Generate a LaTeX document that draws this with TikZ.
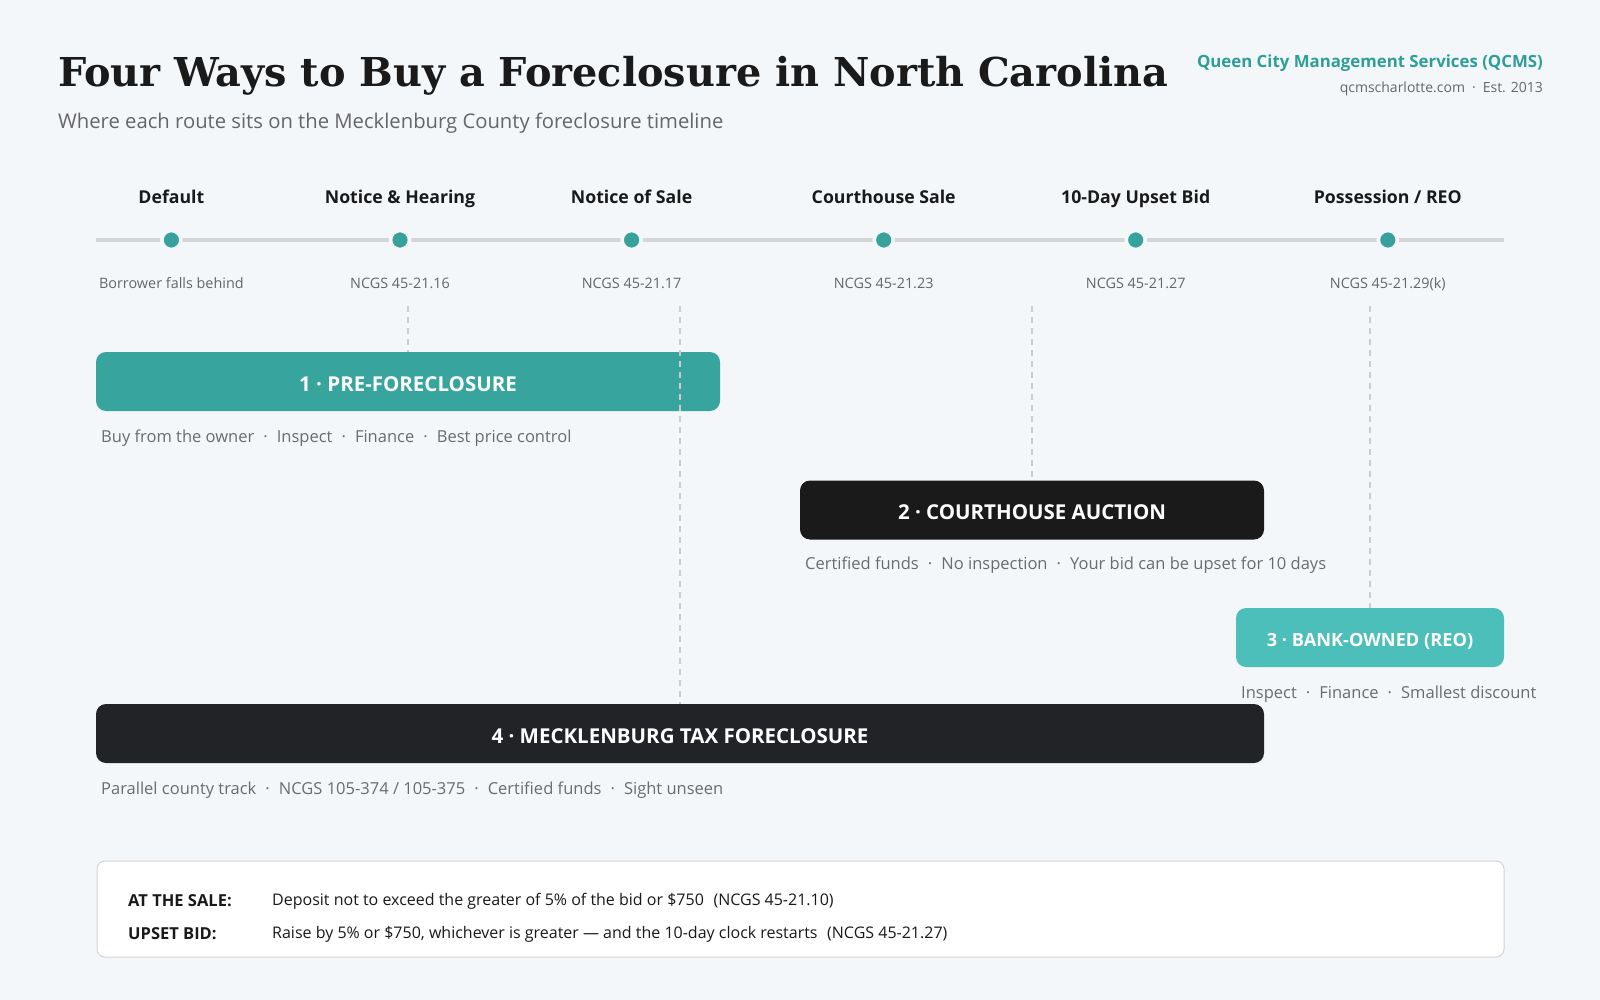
\documentclass[tikz,border=0pt]{standalone}
\usepackage{fontspec}
\setmainfont{Open Sans}
\newfontfamily\titlefont{DejaVu Serif}
\definecolor{bg}{HTML}{F4F7FA}
\definecolor{ink}{HTML}{1A1A1A}
\definecolor{teal1}{HTML}{37A59E}
\definecolor{teal2}{HTML}{4DBFBA}
\definecolor{dotc}{HTML}{37A29B}
\definecolor{blk2}{HTML}{1A1A1A}
\definecolor{blk4}{HTML}{222326}
\definecolor{linec}{HTML}{D5D5D5}
\definecolor{dashc}{HTML}{CCCCCC}
\definecolor{greytx}{HTML}{666666}
\definecolor{captx}{HTML}{6B6B6B}
\definecolor{brandc}{HTML}{2E9E97}
\definecolor{framec}{HTML}{D3D3D3}
\newcommand\sepdot{\hspace{0.55em}·\hspace{0.55em}}
\begin{document}
\begin{tikzpicture}[x=1pt,y=-1pt,
  lbl/.style={anchor=base, font=\fontsize{17.7}{21}\selectfont\bfseries, text=ink, inner sep=0},
  sublbl/.style={anchor=base, font=\fontsize{14.4}{17}\selectfont, text=greytx, inner sep=0},
  dotnode/.style={circle, fill=dotc, draw=bg, line width=3.6pt, minimum size=19pt, inner sep=0},
  routebox/.style={rounded corners=10pt, minimum height=59pt, text=white, inner sep=0,
    text height=19.6pt, text depth=0pt,
    font=\fontsize{20.5}{24}\selectfont\bfseries},
  capt/.style={anchor=west, font=\fontsize{16.5}{20}\selectfont, text=captx, inner sep=0},
  vlink/.style={draw=dashc, line width=1.5pt, dash pattern=on 6pt off 5pt},
  notelbl/.style={anchor=west, font=\fontsize{16.5}{20}\selectfont\bfseries, text=ink, inner sep=0},
  noteval/.style={anchor=west, font=\fontsize{16}{20}\selectfont, text=ink, inner sep=0}
]
\fill[bg] (0,0) rectangle (1600,1000);
\useasboundingbox (0,0) rectangle (1600,1000);

% header
\node[anchor=base west, inner sep=0, font=\titlefont\fontsize{39.8}{46}\selectfont\bfseries, text=ink] (title) at (58,87) {Four Ways to Buy a Foreclosure in North Carolina};
\node[anchor=west, inner sep=0, font=\fontsize{20.25}{24}\selectfont, text=greytx] (subtitle) at (58,123) {Where each route sits on the Mecklenburg County foreclosure timeline};
\node[anchor=east, inner sep=0, font=\fontsize{16.8}{20}\selectfont\bfseries, text=brandc] (brand) at (1543,63) {Queen City Management Services (QCMS)};
\node[anchor=east, inner sep=0, font=\fontsize{14}{17}\selectfont, text=greytx] (web) at (1543,89) {qcmscharlotte.com\hspace{0.5em}·\hspace{0.5em}Est. 2013};

% timeline
\coordinate (tlA) at (96,240);
\coordinate (tlB) at (1504,240);
\draw[linec, line width=4.5pt] (tlA) -- (tlB);
\foreach \i/\x/\top/\bot in {1/171.4/{Default}/{Borrower falls behind},
  2/400/{Notice \& Hearing}/{NCGS 45-21.16},
  3/631.6/{Notice of Sale}/{NCGS 45-21.17},
  4/883.7/{Courthouse Sale}/{NCGS 45-21.23},
  5/1135.7/{10-Day Upset Bid}/{NCGS 45-21.27},
  6/1387.8/{Possession / REO}/{NCGS 45-21.29(k)}}{
  \node[dotnode] (d\i) at (\x,240) {};
  \node[lbl] (l\i) at (\x,203.5) {\top};
  \node[sublbl] (s\i) at (\x,288.5) {\bot};
}

% route boxes
\node[routebox, fill=teal1, minimum width=624pt] (b1) at (408,381.5) {1 · PRE-FORECLOSURE};
\node[routebox, fill=blk2, minimum width=464pt] (b2) at (1032,510) {2 · COURTHOUSE AUCTION};
\node[routebox, fill=teal2, minimum width=268pt, font=\fontsize{18.2}{22}\selectfont\bfseries, text height=17.8pt] (b3) at (1370,637.5) {3 · BANK-OWNED (REO)};
\node[routebox, fill=blk4, minimum width=1168pt] (b4) at (680,733.5) {4 · MECKLENBURG TAX FORECLOSURE};

% dashed drops
\coordinate (v1) at (408,306);
\coordinate (v4) at (680,306);
\coordinate (v2) at (1032,306);
\coordinate (v3) at (1370,306);
\draw[vlink] (v1) -- (b1.north);
\draw[vlink] (v4) -- (b4.north);
\draw[vlink] (v2) -- (b2.north);
\draw[vlink] (v3) -- (b3.north);

% captions
\node[capt] (c1) at (101,438) {Buy from the owner\sepdot Inspect\sepdot Finance\sepdot Best price control};
\node[capt] (c2) at (805,565) {Certified funds\sepdot No inspection\sepdot Your bid can be upset for 10 days};
\node[capt] (c3) at (1241,694) {Inspect\sepdot Finance\sepdot Smallest discount};
\node[capt] (c4) at (101,790) {Parallel county track\sepdot NCGS 105-374 / 105-375\sepdot Certified funds\sepdot Sight unseen};

% note box
\node[draw=framec, line width=1pt, fill=white, rounded corners=8pt, minimum width=1407pt, minimum height=96pt, inner sep=0] (note) at (800.5,909) {};
\node[notelbl] (n1l) at (128,901) {AT THE SALE:};
\node[noteval] (n1v) at (272,901) {Deposit not to exceed the greater of 5\% of the bid or \$750\hspace{0.6em}(NCGS 45-21.10)};
\node[notelbl] (n2l) at (128,934) {UPSET BID:};
\node[noteval] (n2v) at (272,934) {Raise by 5\% or \$750, whichever is greater — and the 10-day clock restarts\hspace{0.6em}(NCGS 45-21.27)};
\end{tikzpicture}
\end{document}
